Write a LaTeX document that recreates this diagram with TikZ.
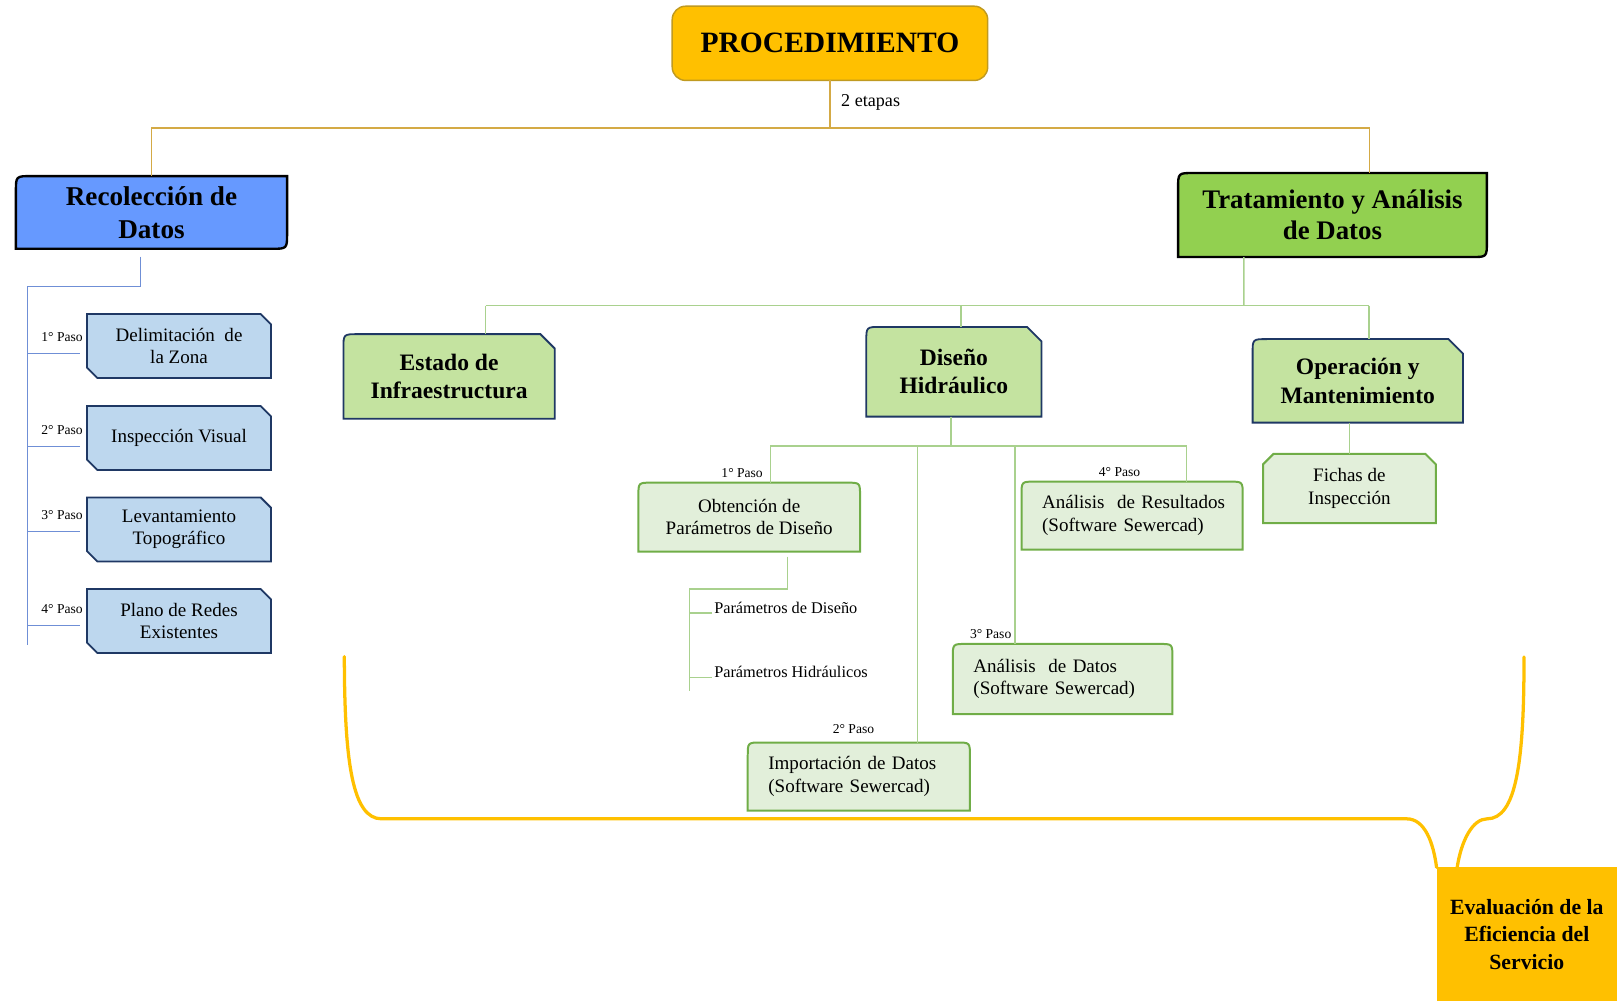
\documentclass[tikz,border=0pt]{standalone}
\usepackage{fontspec}
\setmainfont{Liberation Serif}
\usetikzlibrary{backgrounds}

\definecolor{colGold}{HTML}{FFC000}
\definecolor{colGoldEdge}{HTML}{C09A20}
\definecolor{colGoldLine}{HTML}{D4AA45}
\definecolor{colBlue}{HTML}{6699FF}
\definecolor{colBlueLight}{HTML}{BDD7EE}
\definecolor{colNavy}{HTML}{1F3864}
\definecolor{colBlueLine}{HTML}{6F8FD6}
\definecolor{colGreen}{HTML}{92D050}
\definecolor{colGreenMid}{HTML}{C4E3A0}
\definecolor{colGreenPale}{HTML}{E2EFDA}
\definecolor{colGreenEdge}{HTML}{70AD47}
\definecolor{colGreenLine}{HTML}{A9D18E}

% outlines drawn behind the text nodes: #1 node, #2 corner size, #3 style
\newcommand{\roundDiag}[3]{%
  \draw[#3] ([yshift=-#2]#1.north west) .. controls (#1.north west) .. ([xshift=#2]#1.north west)
    -- (#1.north east) -- ([yshift=#2]#1.south east)
    .. controls (#1.south east) .. ([xshift=-#2]#1.south east)
    -- (#1.south west) -- cycle;}
\newcommand{\snipDiag}[3]{%
  \draw[#3] (#1.north west) -- ([xshift=-#2]#1.north east) -- ([yshift=-#2]#1.north east)
    -- (#1.south east) -- ([xshift=#2]#1.south west) -- ([yshift=#2]#1.south west) -- cycle;}
\newcommand{\roundSnip}[3]{%
  \draw[#3] ([yshift=-#2]#1.north west) .. controls (#1.north west) .. ([xshift=#2]#1.north west)
    -- ([xshift=-#2]#1.north east) -- ([yshift=-#2]#1.north east)
    -- (#1.south east) -- (#1.south west) -- cycle;}
\newcommand{\snipTop}[3]{%
  \draw[#3] (#1.south west) -- ([yshift=-#2]#1.north west) -- ([xshift=#2]#1.north west)
    -- ([xshift=-#2]#1.north east) -- ([yshift=-#2]#1.north east) -- (#1.south east) -- cycle;}
\newcommand{\roundTop}[3]{%
  \draw[#3] (#1.south west) -- ([yshift=-#2]#1.north west)
    .. controls (#1.north west) .. ([xshift=#2]#1.north west)
    -- ([xshift=-#2]#1.north east) .. controls (#1.north east) .. ([yshift=-#2]#1.north east)
    -- (#1.south east) -- cycle;}

\tikzset{
  boxnode/.style={inner sep=0pt, outer sep=0pt, align=center},
  bighead/.style={boxnode, font=\fontsize{15}{18}\selectfont\bfseries},
  midhead/.style={boxnode, font=\fontsize{13}{15.6}\selectfont\bfseries},
  stepbox/.style={boxnode, font=\fontsize{10.5}{12.4}\selectfont},
  leftbox/.style={stepbox, align=left, inner xsep=0.4cm},
  pasolab/.style={inner sep=0pt, font=\fontsize{7.5}{9}\selectfont},
  sidelab/.style={inner sep=1pt, font=\fontsize{9}{11}\selectfont},
  goldline/.style={draw=colGoldLine, line width=0.7pt},
  blueline/.style={draw=colBlueLine, line width=0.7pt},
  greenline/.style={draw=colGreenLine, line width=0.8pt},
  bracegold/.style={draw=colGold, line width=1.8pt, line cap=round},
  headbox/.style={draw=black, line width=1.3pt},
  bluebox/.style={fill=colBlueLight, draw=colNavy, line width=1pt},
  midbox/.style={fill=colGreenMid, draw=colNavy, line width=1pt},
  palebox/.style={fill=colGreenPale, draw=colGreenEdge, line width=1.1pt},
}

\begin{document}
\begin{tikzpicture}[x=0.02cm, y=-0.02cm]
    \useasboundingbox (0,0) rectangle (1568,971);

    % top of the chart
    \node[boxnode, rounded corners=0.26cm, fill=colGold, draw=colGoldEdge, line width=0.8pt,
          minimum width=6.12cm, minimum height=1.44cm,
          font=\fontsize{16.3}{19}\selectfont\bfseries] (proc) at (804.8,42) {PROCEDIMIENTO};
    \node[sidelab, font=\fontsize{10}{12}\selectfont, anchor=base west] (etapas) at (813.6,103) {2 etapas};

    \node[bighead, minimum width=5.26cm, minimum height=1.41cm] (recol) at (146.9,206) {Recolección de\\Datos};
    \node[bighead, font=\fontsize{14.8}{17.4}\selectfont\bfseries, minimum width=5.99cm, minimum height=1.63cm]
        (trat) at (1292.1,208.5) {Tratamiento y Análisis\\de Datos};

    \coordinate (pbus) at (804.8,124);
    \draw[goldline] (proc.south) -- (pbus);
    \draw[goldline] (recol.north) |- (pbus) -| ([xshift=7.2mm]trat.north);

    % Recoleccion de Datos
    \node[stepbox, minimum width=3.57cm, minimum height=1.24cm] (delim) at (173.6,335.5) {Delimitación\ \ de\\la Zona};
    \node[stepbox, minimum width=3.57cm, minimum height=1.24cm] (insp) at (173.6,424.7) {Inspección Visual};
    \node[stepbox, minimum width=3.57cm, minimum height=1.24cm] (levant) at (173.6,513.4) {Levantamiento\\Topográfico};
    \node[stepbox, minimum width=3.57cm, minimum height=1.24cm] (plano) at (173.6,602.2) {Plano de Redes\\Existentes};

    \coordinate (rbus) at (26.9,278);
    \coordinate (rend) at (26.9,625.4);
    \draw[blueline] ([xshift=-2.1mm,yshift=-1.5mm]recol.south) |- (rbus) -- (rend);
    \foreach \n/\k/\o in {delim/1/1.42, insp/2/1.68, levant/3/0.44, plano/4/0.9}{
        \coordinate (t\k) at ([xshift=-1.37mm,yshift=-\o mm]\n.west);
        \draw[blueline] (rbus |- t\k) -- (t\k);
        \node[pasolab, anchor=base east] at ([xshift=0.6mm,yshift=2.3mm]t\k) {\k° Paso};
    }

    % Tratamiento y Analisis de Datos
    \node[midhead, minimum width=4.1cm, minimum height=1.64cm] (estado) at (435.5,365) {Estado de\\Infraestructura};
    \node[midhead, minimum width=3.4cm, minimum height=1.74cm] (disenio) at (925,360.5) {Diseño\\Hidráulico};
    \node[midhead, minimum width=4.08cm, minimum height=1.62cm] (operac) at (1316.6,369.3) {Operación y\\Mantenimiento};

    \coordinate (tbus) at (1206.2,296.4);
    \coordinate (ge) at (471,296.4);
    \coordinate (gd) at (932,296.4);
    \coordinate (go) at (1327.5,296.4);
    \draw[greenline] ([xshift=-1.72cm]trat.south) -- (tbus);
    \draw[greenline] (ge) -- (go);
    \draw[greenline] (ge) -- (ge |- estado.north);
    \draw[greenline] (gd) -- (gd |- disenio.north);
    \draw[greenline] (go) -- (go |- operac.north);

    % Diseno Hidraulico
    \node[stepbox, minimum width=4.3cm, minimum height=1.34cm] (obten) at (726.5,501.5) {Obtención de\\Parámetros de Diseño};
    \node[leftbox, text width=3.49cm, minimum height=1.32cm] (ares) at (1097.8,500)
        {\mbox{Análisis\ \ de Resultados}\\\mbox{(Software Sewercad)}};
    \node[leftbox, text width=3.46cm, minimum height=1.36cm] (adat) at (1030.4,658.4)
        {\mbox{Análisis\ \ de Datos}\\\mbox{(Software Sewercad)}};
    \node[leftbox, text width=3.51cm, minimum height=1.32cm] (impor) at (832.8,753)
        {\mbox{Importación de Datos}\\\mbox{(Software Sewercad)}};

    \coordinate (dtop) at ([xshift=-0.6mm]disenio.south);
    \coordinate (d1) at (747,432.5);
    \coordinate (d2) at (889.8,432.5);
    \coordinate (d3) at (984.2,432.5);
    \coordinate (d4) at (1150.6,432.5);
    \draw[greenline] (dtop) -- (dtop |- d1);
    \draw[greenline] (d1) -- (d4);
    \draw[greenline] (d1) -- (d1 |- obten.north);
    \draw[greenline] (d2) -- (d2 |- impor.north);
    \draw[greenline] (d3) -- (d3 |- adat.north);
    \draw[greenline] (d4) -- (d4 |- ares.north);
    \node[pasolab, anchor=base east] at (740,463) {1° Paso};
    \node[pasolab, anchor=base east] at (848,711.7) {2° Paso};
    \node[pasolab, anchor=base east] at (981,619) {3° Paso};
    \node[pasolab, anchor=base east] at (1106,462.2) {4° Paso};

    \coordinate (otop) at ([xshift=7.46mm,yshift=-0.96mm]obten.south);
    \coordinate (obus) at (668.4,571);
    \coordinate (oend) at (668.4,669.7);
    \draw[greenline] (otop) |- (obus) -- (oend);
    \node[sidelab, anchor=base west] (pdis) at (690.5,594.6) {Parámetros de Diseño};
    \node[sidelab, anchor=base west] (phid) at (690.5,656.8) {Parámetros Hidráulicos};
    \draw[greenline] (obus |- pdis.base west) -- (pdis.base west);
    \draw[greenline] (obus |- phid.base west) -- (phid.base west);

    % Operacion y Mantenimiento
    \node[stepbox, minimum width=3.35cm, minimum height=1.34cm] (fichas) at (1308.5,473.7) {Fichas de\\Inspección};
    \draw[greenline] (fichas.north |- operac.south) -- (fichas.north);

    % evaluation and brace
    \node[boxnode, fill=colGold, minimum width=3.5cm, minimum height=2.6cm,
          font=\fontsize{12}{15.3}\selectfont\bfseries] (eval) at (1480.5,906) {Evaluación de la\\Eficiencia del\\Servicio};
    \draw[bracegold] (333.9,636.7) .. controls (334,740) and (342,794) .. (370,794) -- (1364,794)
        .. controls (1382,794) and (1390,818) .. (eval.north west);
    \draw[bracegold] (1477.8,637) .. controls (1478,740) and (1470,794) .. (1442,794)
        .. controls (1428,794) and (1417,815) .. ([xshift=0.4cm]eval.north west);

    % box outlines
    \begin{scope}[on background layer]
        \roundDiag{recol}{0.3cm}{headbox, fill=colBlue}
        \roundDiag{trat}{0.3cm}{headbox, fill=colGreen}
        \foreach \n in {delim,insp,levant,plano}{\snipDiag{\n}{0.2cm}{bluebox}}
        \roundSnip{estado}{0.28cm}{midbox}
        \roundSnip{disenio}{0.28cm}{midbox}
        \roundSnip{operac}{0.28cm}{midbox}
        \roundTop{obten}{0.26cm}{palebox}
        \roundTop{ares}{0.26cm}{palebox}
        \roundTop{adat}{0.26cm}{palebox}
        \roundTop{impor}{0.26cm}{palebox}
        \snipTop{fichas}{0.2cm}{palebox}
    \end{scope}
\end{tikzpicture}
\end{document}
